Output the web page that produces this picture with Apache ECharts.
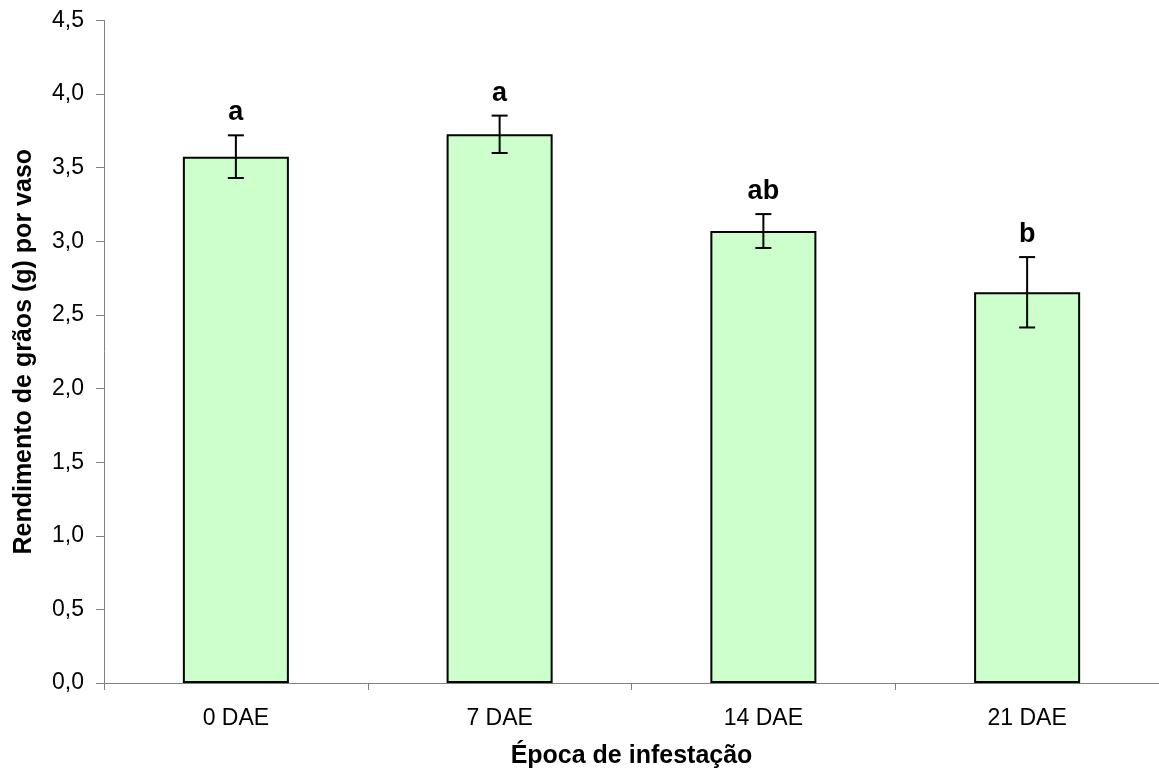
<!DOCTYPE html>
<html>
<head>
<meta charset="utf-8">
<script src="https://cdn.jsdelivr.net/npm/echarts@6/dist/echarts.min.js"></script>
<style>
  html, body { margin: 0; padding: 0; background: #fff; }
  #chart { width: 1159px; height: 776px; }
</style>
</head>
<body>
<div id="chart"></div>
<script>
// data
const categories = ['0 DAE', '7 DAE', '14 DAE', '21 DAE'];
const yieldMeans = [3.575, 3.727, 3.07, 2.654];
const yieldErrors = [0.145, 0.127, 0.115, 0.239];
const letters = ['a', 'a', 'ab', 'b'];
const yTicks = [0, 0.5, 1, 1.5, 2, 2.5, 3, 3.5, 4, 4.5];

const font = '"Liberation Sans", Arial, sans-serif';
const myChart = echarts.init(document.getElementById('chart'));

const errorData = categories.map(function (c, i) {
  return [i, yieldMeans[i] - yieldErrors[i], yieldMeans[i] + yieldErrors[i], letters[i]];
});

myChart.setOption({
  animation: false,
  grid: { left: 104, right: -1, top: 20.5, bottom: 93 },
  xAxis: {
    type: 'category',
    data: categories,
    name: 'Época de infestação',
    nameLocation: 'middle',
    nameGap: 61,
    nameTextStyle: { fontFamily: font, fontSize: 25, fontWeight: 'bold', color: '#000' },
    axisLine: { lineStyle: { color: '#808080', width: 1 } },
    axisTick: { show: true, length: 7, lineStyle: { color: '#808080' } },
    axisLabel: { fontFamily: font, fontSize: 23, color: '#000', margin: 24 }
  },
  yAxis: {
    type: 'value',
    min: yTicks[0],
    max: yTicks[yTicks.length - 1],
    interval: 0.5,
    name: 'Rendimento de grãos (g) por vaso',
    nameLocation: 'middle',
    nameGap: 67,
    nameTextStyle: { fontFamily: font, fontSize: 25, fontWeight: 'bold', color: '#000' },
    splitLine: { show: false },
    axisLine: { show: true, lineStyle: { color: '#808080', width: 1 } },
    axisTick: { show: true, length: 8, lineStyle: { color: '#808080' } },
    axisLabel: {
      fontFamily: font, fontSize: 23, color: '#000', margin: 20,
      formatter: function (v) { return v.toFixed(1).replace('.', ','); }
    }
  },
  series: [
    {
      type: 'bar',
      data: yieldMeans,
      barWidth: '40.2%',
      itemStyle: { color: '#CCFFCC', borderColor: '#000', borderWidth: 2 }
    },
    {
      type: 'custom',
      data: errorData,
      z: 5,
      renderItem: function (params, api) {
        const lo = api.coord([api.value(0), api.value(1)]);
        const hi = api.coord([api.value(0), api.value(2)]);
        const hw = 8;
        const st = { stroke: '#000', lineWidth: 2 };
        return {
          type: 'group',
          children: [
            { type: 'line', shape: { x1: hi[0], y1: hi[1], x2: lo[0], y2: lo[1] }, style: st },
            { type: 'line', shape: { x1: hi[0] - hw, y1: hi[1], x2: hi[0] + hw, y2: hi[1] }, style: st },
            { type: 'line', shape: { x1: lo[0] - hw, y1: lo[1], x2: lo[0] + hw, y2: lo[1] }, style: st },
            {
              type: 'text',
              x: hi[0], y: hi[1] - 9,
              style: {
                text: api.value(3),
                fontFamily: font, fontSize: 27, fontWeight: 'bold', fill: '#000',
                align: 'center', verticalAlign: 'bottom'
              }
            }
          ]
        };
      }
    }
  ]
});
</script>
</body>
</html>
